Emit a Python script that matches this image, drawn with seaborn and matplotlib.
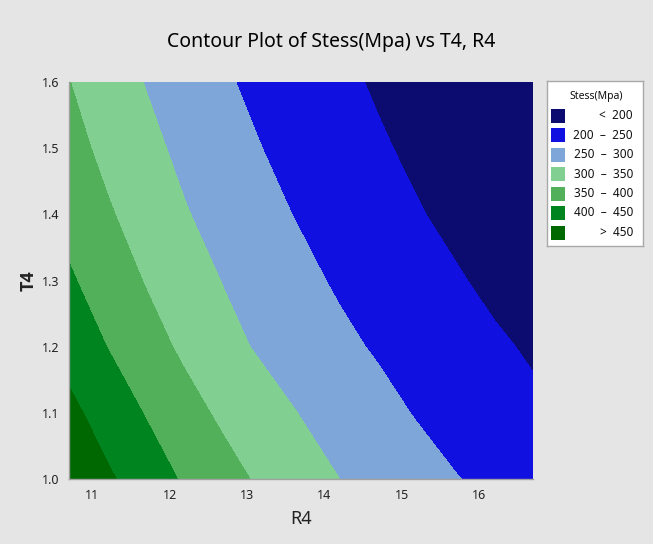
import numpy as np
import pandas as pd
import seaborn as sns
import matplotlib
matplotlib.use("Agg")
import matplotlib.pyplot as plt
from matplotlib.patches import Rectangle

# ---- data (Stress in MPa on an R4 x T4 grid) ----
r4_values = [10.7, 11.2, 11.7, 12.2, 12.7, 13.2, 13.7, 14.2, 14.7, 15.2, 15.7, 16.2, 16.7]
t4_values = [1.0, 1.1, 1.2, 1.3, 1.4, 1.5, 1.6]
stress_t10 = [493, 457, 425, 394, 367, 342, 321, 300, 284, 268, 252, 238, 225]
stress_t11 = [462, 429, 397, 367, 341, 320, 298, 281, 264, 247, 232, 218, 208]
stress_t12 = [432, 399, 369, 341, 315, 293, 276, 260, 245, 232, 219, 206, 195]
stress_t13 = [406, 376, 347, 322, 298, 280, 261, 244, 231, 217, 204, 191, 180]
stress_t14 = [384, 355, 329, 303, 283, 263, 246, 231, 217, 203, 190, 180, 169]
stress_t15 = [366, 338, 312, 289, 269, 250, 235, 220, 205, 192, 180, 170, 160]
stress_t16 = [351, 324, 298, 277, 255, 239, 224, 209, 195, 182, 171, 161, 151]
stress_rows = [stress_t10, stress_t11, stress_t12, stress_t13,
               stress_t14, stress_t15, stress_t16]

levels = [0, 200, 250, 300, 350, 400, 450, 1000]
legend_labels = ["<  200", "200  \u2013  250", "250  \u2013  300", "300  \u2013  350",
                 "350  \u2013  400", "400  \u2013  450", ">  450"]
level_colors = ["#0c0c70", "#1010e0", "#7ea6d8", "#82cf92",
                "#52b05a", "#008420", "#006800"]
x_ticks = [11, 12, 13, 14, 15, 16]
y_ticks = [1.0, 1.1, 1.2, 1.3, 1.4, 1.5, 1.6]

df = pd.DataFrame(stress_rows, index=t4_values, columns=r4_values)

sns.set_theme(style="white")
plt.rcParams["font.family"] = ["Noto Sans", "DejaVu Sans"]

W, H = 653, 544
fig = plt.figure(figsize=(W / 100, H / 100), dpi=100)
fig.patch.set_facecolor("#e5e5e5")

L, R, T, B = 69, 533, 82, 479
ax = fig.add_axes([L / W, 1 - B / H, (R - L) / W, (B - T) / H])
ax.set_facecolor("#e5e5e5")

X, Y = np.meshgrid(df.columns.values, df.index.values)
ax.contourf(X, Y, df.values, levels=levels, colors=level_colors)

ax.set_xlim(10.7, 16.7)
ax.set_ylim(1.0, 1.6)
ax.set_xticks(x_ticks)
ax.set_xticklabels([str(v) for v in x_ticks])
ax.set_yticks(y_ticks)
ax.set_yticklabels([f"{v:.1f}" for v in y_ticks])
for s in ["top", "right"]:
    ax.spines[s].set_visible(False)
for s in ["left", "bottom"]:
    ax.spines[s].set_color("#a0a0a0")
    ax.spines[s].set_linewidth(1.0)
ax.tick_params(axis="both", direction="out", length=4, width=1, color="#a0a0a0",
               labelsize=9, labelcolor="#222222", pad=3)
ax.set_xlabel("R4", fontsize=13, color="#222222", labelpad=6)
ax.set_ylabel("T4", fontsize=13, fontweight="bold", color="#222222", labelpad=3,
              family=["Open Sans", "DejaVu Sans"])

fig.text(331 / W, 1 - 42 / H, "Contour Plot of Stess(Mpa) vs T4, R4",
         ha="center", va="center", fontsize=14, color="#000000")

# ---- legend box ----
lx0, lx1, ly0, ly1 = 547, 643, 81, 246
lax = fig.add_axes([lx0 / W, 1 - ly1 / H, (lx1 - lx0) / W, (ly1 - ly0) / H])
lax.set_xlim(lx0, lx1)
lax.set_ylim(ly1, ly0)
lax.set_facecolor("white")
lax.set_xticks([])
lax.set_yticks([])
for s in lax.spines.values():
    s.set_color("#a8a8a8")
    s.set_linewidth(1.0)
lax.text(596, 97, "Stess(Mpa)", ha="center", va="center", fontsize=7.5, color="#111111")
row_y = [115.7, 135.3, 155, 174.3, 193.7, 212.7, 232.7]
for yy, col, lab in zip(row_y, level_colors, legend_labels):
    lax.add_patch(Rectangle((551, yy - 7), 14, 14, facecolor=col, edgecolor="none"))
    lax.text(633, yy, lab, ha="right", va="center", fontsize=8.5, color="#111111")

fig.savefig("out.png", dpi=100, facecolor=fig.get_facecolor())
